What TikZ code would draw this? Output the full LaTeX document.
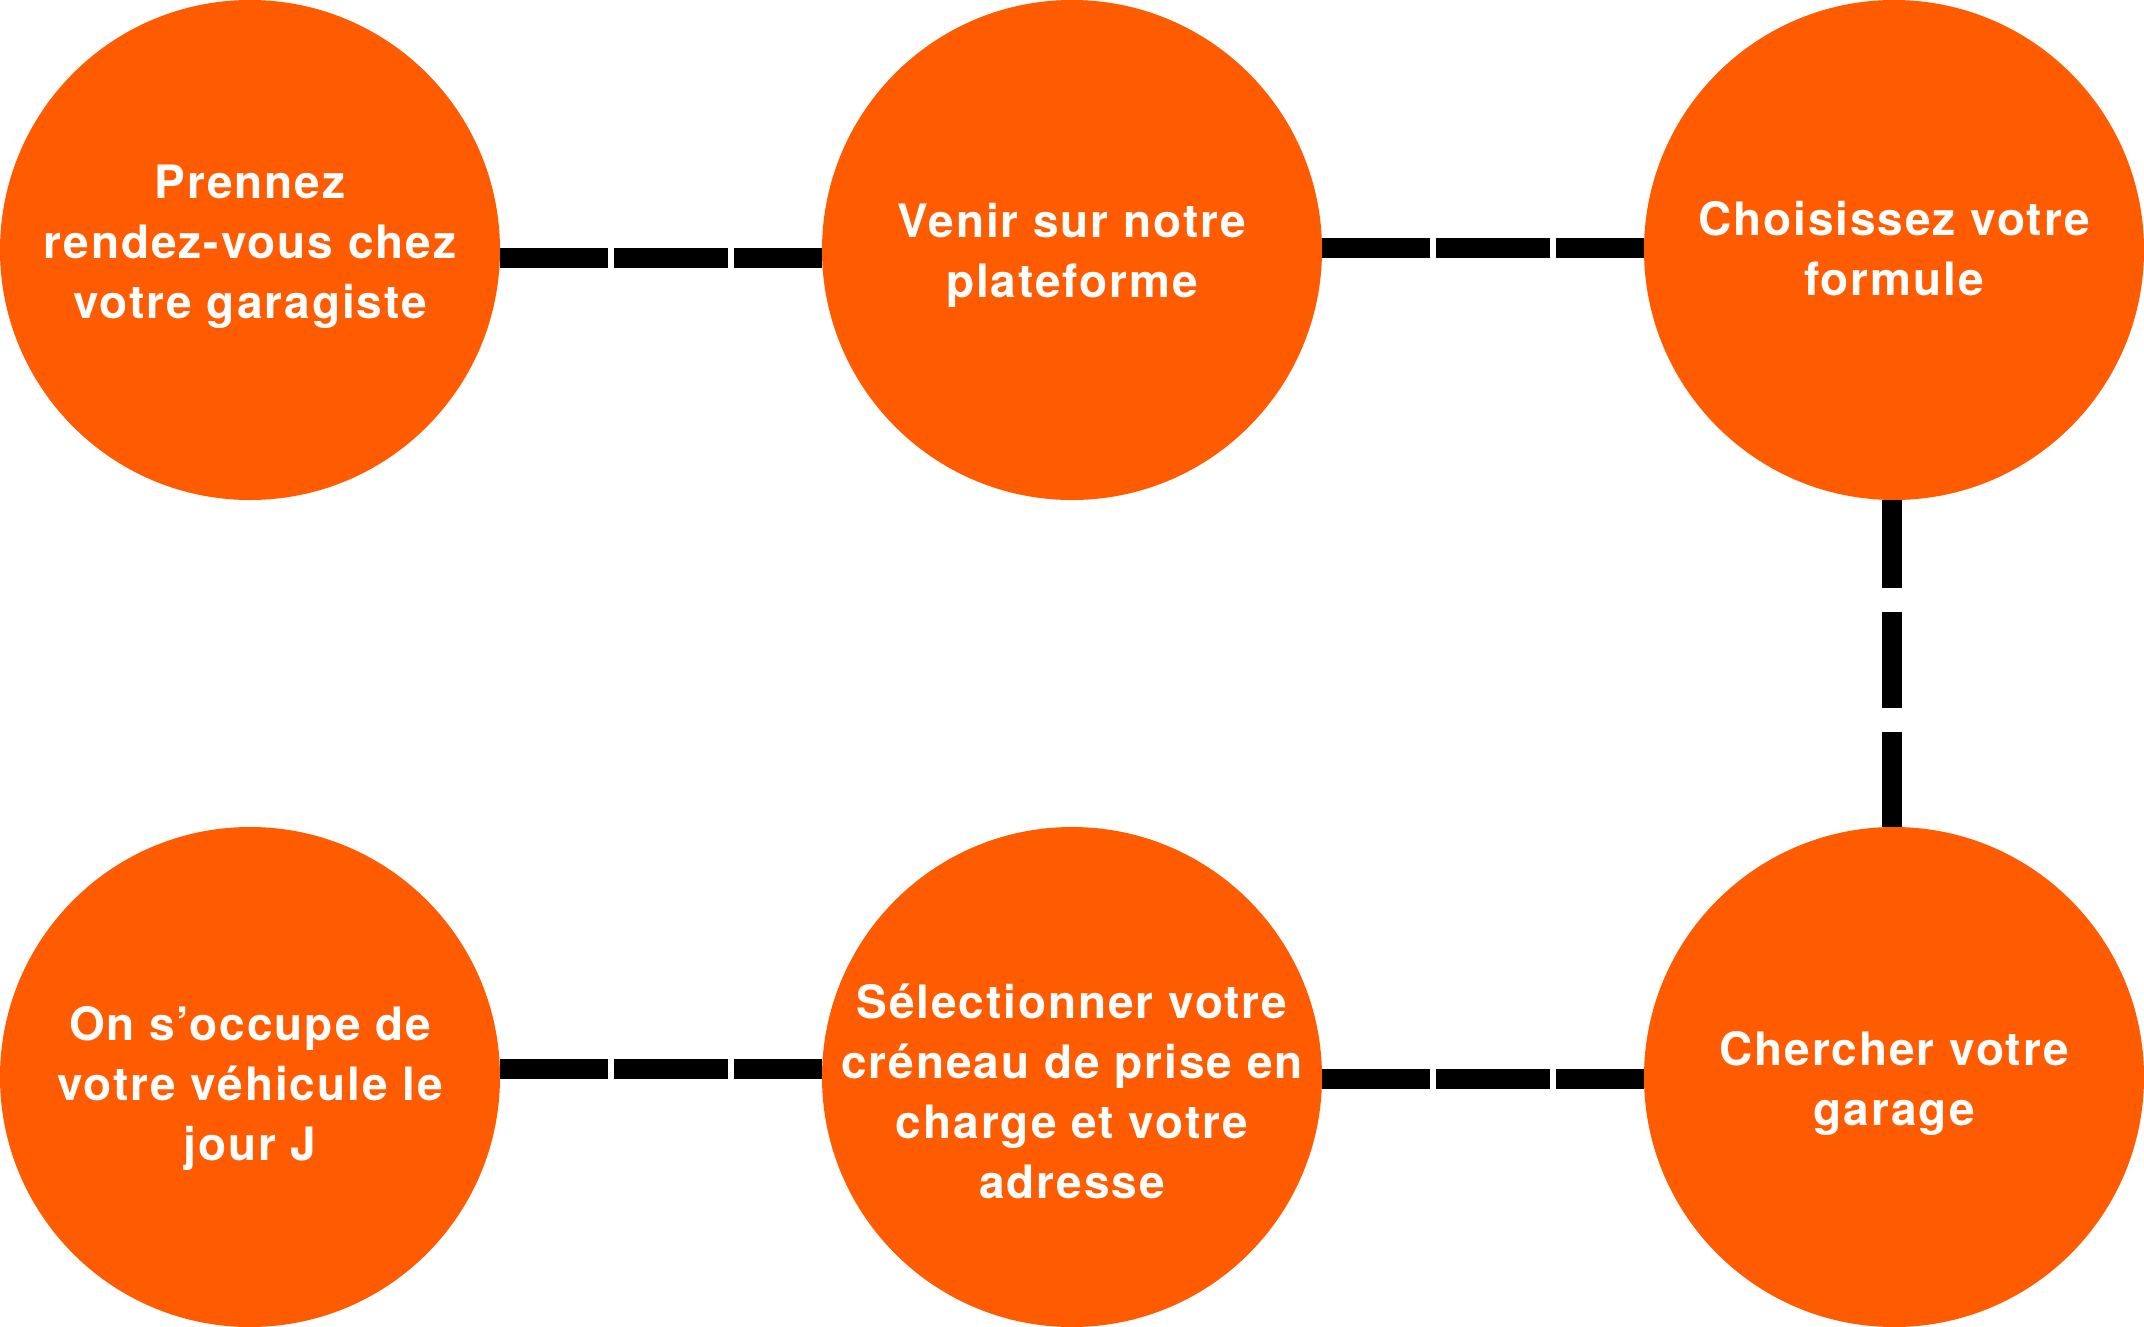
\documentclass[tikz,border=0pt]{standalone}
\usepackage{fontspec}
\setmainfont{TeX Gyre Heros}[LetterSpace=4.2]
\definecolor{stepfill}{RGB}{255,91,0}
\begin{document}
\begin{tikzpicture}[x=1pt,y=-1pt,
  stepcircle/.style={circle, fill=stepfill, draw=none, minimum size=500pt, inner sep=0pt},
  steptext/.style={anchor=base, text=white, font=\fontsize{46}{60}\selectfont\bfseries, inner sep=0pt},
  hconn/.style={line width=20pt, dash pattern=on 114pt off 6pt, dash phase=6pt},
  vconn/.style={line width=20pt, dash pattern=on 96pt off 24pt, dash phase=8pt}]
\useasboundingbox (0,0) rectangle (2144,1327);
% circles
\node[stepcircle] (c1) at (250,250) {};
\node[stepcircle] (c2) at (1072,250) {};
\node[stepcircle] (c3) at (1894,250) {};
\node[stepcircle] (c4) at (1894,1077) {};
\node[stepcircle] (c5) at (1072,1077) {};
\node[stepcircle] (c6) at (250,1077) {};
% connectors
\draw[hconn] ([yshift=-8pt]c1.east) -- ([yshift=-8pt]c2.west);
\draw[hconn] ([yshift=2pt]c2.east) -- ([yshift=2pt]c3.west);
\draw[vconn] ([xshift=-2pt]c3.south) -- ([xshift=-2pt]c4.north);
\draw[hconn] ([yshift=-2pt]c5.east) -- ([yshift=-2pt]c4.west);
\draw[hconn] ([yshift=8pt]c6.east) -- ([yshift=8pt]c5.west);
% texts
\node[steptext] (t1) at (250,198) {\begin{tabular}[t]{@{}c@{}}Prennez\\rendez-vous chez\\votre garagiste\end{tabular}};
\node[steptext] (t2) at (1072,237) {\begin{tabular}[t]{@{}c@{}}Venir sur notre\\plateforme\end{tabular}};
\node[steptext] (t3) at (1894,235) {\begin{tabular}[t]{@{}c@{}}Choisissez votre\\formule\end{tabular}};
\node[steptext] (t4) at (1894,1065) {\begin{tabular}[t]{@{}c@{}}Chercher votre\\garage\end{tabular}};
\node[steptext] (t5) at (1072,1018) {\begin{tabular}[t]{@{}c@{}}Sélectionner votre\\créneau de prise en\\charge et votre\\adresse\end{tabular}};
\node[steptext] (t6) at (250,1040) {\begin{tabular}[t]{@{}c@{}}On s’occupe de\\votre véhicule le\\jour J\end{tabular}};
\end{tikzpicture}
\end{document}
